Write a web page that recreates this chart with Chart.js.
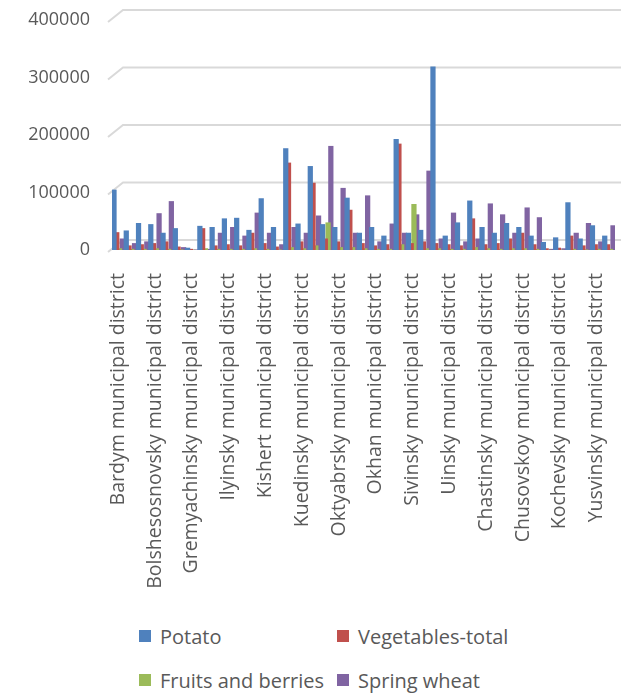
<!DOCTYPE html>
<html>
<head>
<meta charset="utf-8">
<script src="https://cdn.jsdelivr.net/npm/chart.js@4.4.1/dist/chart.umd.min.js"></script>
<style>
  body{margin:0;background:#fff;font-family:"Open Sans",sans-serif;}
  #wrap{position:absolute;left:0;top:0;width:627px;height:610px;}
  #legend{position:absolute;left:0;top:618px;width:627px;height:77px;color:#595959;font-size:20px;}
  .li{position:absolute;display:flex;align-items:center;white-space:nowrap;}
  .li span.box{display:inline-block;width:12px;height:12px;margin-right:9px;}
</style>
</head>
<body>
<div id="wrap"><canvas id="c"></canvas></div>
<div id="legend"></div>
<script>
// districts, every third one gets its name printed under the axis
const districts=['Bardym','Aleksandrovsky','Berezovsky','Bolshesosnovsky','Vereshchaginsky','Gornozavodsky',
  'Gremyachinsky','Dobryansky','Yelovsky','Ilyinsky','Karagaysky','Kizelovsky','Kishert','Krasnovishersky',
  'Krasnokamsky','Kuedinsky','Kungursky','Nytvensky','Oktyabrsky','Ordinsky','Osinsky','Okhan','Ochersky',
  'Permsky','Sivinsky','Solikamsky','Suksunsky','Uinsky','Usolsky','Chaikovsky','Chastinsky','Cherdynsky',
  'Chernushinsky','Chusovskoy','Gainsky','Kosinsky','Kochevsky','Kudymkarsky','Yurlinsky','Yusvinsky','Lysvensky'];
const categories=districts.map(d=>d+' municipal district');

const seriesNames=['Potato','Vegetables-total','Fruits and berries','Spring wheat'];
const seriesColors=['#4f81bd','#c0504d','#9bbb59','#8064a2'];

const potato=[105000,34000,47000,45000,30000,38000,4000,42000,40000,55000,56000,35000,90000,40000,
  177000,46000,146000,45000,40000,91000,30000,40000,25000,193000,30000,35000,319000,25000,48000,86000,
  40000,30000,47000,40000,25000,14000,22000,83000,20000,43000,25000];
const vegetables=[31000,8000,10000,12000,15000,6000,2000,38000,8000,10000,8000,30000,12000,6000,
  152000,15000,117000,20000,15000,70000,12000,8000,10000,185000,12000,15000,12000,10000,8000,55000,
  10000,12000,20000,30000,10000,3000,4000,25000,8000,10000,10000];
const fruits=[3000,2000,2000,3000,2000,1000,500,3000,2000,2000,2000,3000,2000,1000,
  5000,3000,8000,48000,5000,5000,3000,2000,2000,10000,80000,3000,3000,2000,2000,5000,
  3000,2000,3000,3000,2000,500,500,2000,1000,2000,2000];
const wheat=[20000,12000,15000,64000,85000,5000,1000,2000,30000,40000,25000,65000,30000,10000,
  40000,30000,60000,181000,108000,30000,95000,15000,46000,30000,62000,138000,20000,65000,15000,20000,
  81000,62000,30000,74000,57000,2000,3000,30000,47000,15000,43000];

const yTicks=[0,100000,200000,300000,400000];
const tc='#595959', gc='#d9d9d9';

// slanted back-wall gridlines, like the 3D chart they came from
const wallGrid={
  id:'wallGrid',
  beforeDatasetsDraw(chart){
    const {ctx,chartArea:{left,right},scales:{y}}=chart;
    ctx.save();
    ctx.strokeStyle=gc; ctx.lineWidth=2;
    yTicks.forEach(v=>{
      const py=y.getPixelForValue(v);
      ctx.beginPath();
      ctx.moveTo(left-4,py+2);
      ctx.lineTo(left+11,py-10);
      ctx.lineTo(right+6,py-10);
      ctx.stroke();
    });
    ctx.restore();
  }
};

const data=[potato,vegetables,fruits,wheat];
new Chart(document.getElementById('c').getContext('2d'),{
  type:'bar',
  // wide bars overlap their neighbours, the first series stays in front
  data:{labels:categories,datasets:data.map((d,i)=>({label:seriesNames[i],data:d,backgroundColor:seriesColors[i],
    categoryPercentage:0.9,barPercentage:1.9}))},
  options:{responsive:true,maintainAspectRatio:false,animation:false,
    layout:{padding:{top:20,right:12,left:0,bottom:0}},
    plugins:{legend:{display:false},tooltip:{enabled:false}},
    scales:{
      x:{grid:{display:false},border:{display:false},
        afterFit:s=>{s.height=360;s.paddingLeft=0;s.paddingRight=0;},
        ticks:{autoSkip:false,maxRotation:90,minRotation:90,padding:15,color:tc,font:{family:'Open Sans',size:19.5},
          callback:(v,i)=>i%3===0?categories[i]:''}},
      y:{min:0,max:400000,grid:{display:false},border:{display:false},
        afterFit:s=>{s.width=112;s.paddingTop=0;s.paddingBottom=0;},
        ticks:{stepSize:100000,padding:14,color:tc,font:{family:'Open Sans',size:18},callback:v=>String(v)}}
    }},
  plugins:[wallGrid]
});

// legend laid out in two columns as in the original
const legendPos=[[139,636],[337,636],[139,680],[337,680]];
document.getElementById('legend').innerHTML=seriesNames.map((n,i)=>
  `<div class="li" style="left:${legendPos[i][0]}px;top:${legendPos[i][1]-618-14}px;height:28px">`+
  `<span class="box" style="background:${seriesColors[i]}"></span>${n}</div>`).join('');
</script>
</body>
</html>
